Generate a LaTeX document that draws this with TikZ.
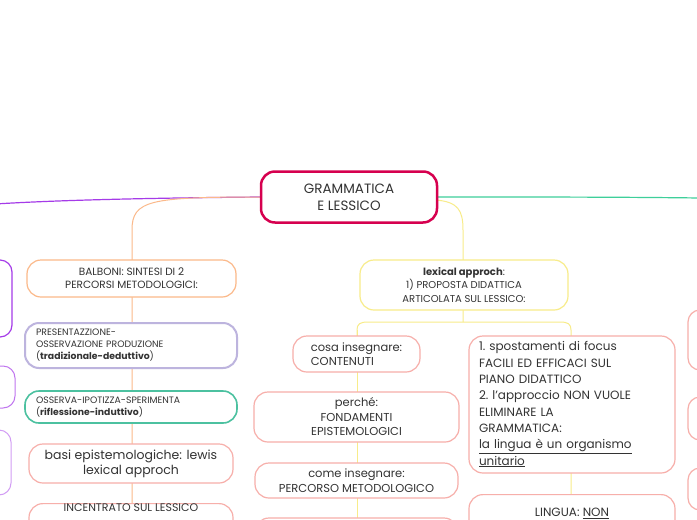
\documentclass[tikz,border=0pt]{standalone}
\usepackage{fontspec}
\setmainfont{Poppins}
\newcommand{\ul}[1]{\underline{#1}}
\definecolor{crim}{HTML}{D6004F}
\definecolor{orn}{HTML}{FBB98A}
\definecolor{yel}{HTML}{F8EC8A}
\definecolor{pnk}{HTML}{F7AFAA}
\definecolor{lav}{HTML}{BDB4DE}
\definecolor{teal}{HTML}{4CC1A0}
\definecolor{purp}{HTML}{A53BE8}
\definecolor{grn}{HTML}{3ECF9A}
\definecolor{ink}{HTML}{333333}
\begin{document}
\begin{tikzpicture}[x=1pt,y=-1pt,
 box/.style={draw,rounded corners=14pt,line width=1.2pt,fill=white,inner sep=0pt,align=center,text=ink},
 txt/.style={font=\fontsize{10.5}{13}\selectfont}]
\clip (0,0) rectangle (697,520);
\useasboundingbox (0,0) rectangle (697,520);
\fill[white] (0,0) rectangle (697,520);
% connectors
\draw[purp,line width=1.2pt] (260,197) .. controls (150,198) and (60,200) .. (-5,204);
\draw[grn,line width=1.2pt] (438,197) .. controls (550,197) and (620,197) .. (700,198);
\draw[orn,line width=1pt] (262,197) .. controls (150,197) and (132,200) .. (132,230) -- (132,520);
\draw[yel,line width=1pt] (436,200) .. controls (458,202) and (463,210) .. (463,230) -- (463,322);
\draw[yel,line width=1pt] (357,340) -- (357,330) .. controls (357,324) and (360,322) .. (368,322) -- (560,322) .. controls (568,322) and (571,324) .. (571,330) -- (571,520);
\draw[yel,line width=1pt] (357,330) -- (357,520);
% center
\node[box,draw=crim,line width=2.5pt,minimum width=176pt,minimum height=51pt,font=\fontsize{13.5}{17}\selectfont] (c) at (349,197) {GRAMMATICA\\E LESSICO};
% left column
\node[box,draw=orn,minimum width=209pt,minimum height=37pt,txt] (b) at (131.5,278.5) {BALBONI: SINTESI DI 2\\PERCORSI METODOLOGICI:};
\node[box,draw=lav,line width=2pt,minimum width=212pt,minimum height=45pt,font=\fontsize{9.3}{12}\selectfont,align=left,text width=190pt] (p) at (131,345.5) {PRESENTAZZIONE-\\OSSERVAZIONE PRODUZIONE\\(\textbf{tradizionale-deduttivo})};
\node[box,draw=teal,line width=1.6pt,minimum width=212pt,minimum height=32pt,font=\fontsize{9.3}{12}\selectfont,align=left,text width=190pt] (o) at (131,407) {OSSERVA-IPOTIZZA-SPERIMENTA\\(\textbf{riflessione-induttivo})};
\node[box,draw=pnk,minimum width=204pt,minimum height=39pt,font=\fontsize{12.5}{15}\selectfont] (ba) at (131,463.5) {basi epistemologiche: lewis\\lexical approch};
\node[box,draw=pnk,minimum width=204pt,minimum height=40pt,anchor=north,font=\fontsize{11}{13}\selectfont] (in) at (131,503) {\raisebox{1pt}{INCENTRATO SUL LESSICO}\\[20pt]};
% left edge partial
\draw[purp,line width=1.2pt,rounded corners=12pt,fill=white] (-20,260) rectangle (12,337);
\draw[purp!70,line width=1pt,rounded corners=12pt,fill=white] (-20,366) rectangle (15,408);
\draw[purp!50,line width=1pt,rounded corners=12pt,fill=white] (-20,430) rectangle (11,495);
% right column
\node[box,draw=yel,minimum width=208pt,minimum height=50pt,txt,font=\fontsize{10}{13.5}\selectfont] (l) at (464,285) {\textbf{lexical approch}:\\1) PROPOSTA DIDATTICA\\ARTICOLATA SUL LESSICO:};
\node[box,draw=pnk,minimum width=127pt,minimum height=36pt,font=\fontsize{11.5}{14.5}\selectfont,align=left] (co) at (356.5,354) {cosa insegnare:\\CONTENUTI};
\node[box,draw=pnk,minimum width=205pt,minimum height=50pt,font=\fontsize{11.5}{14.5}\selectfont] (pe) at (356.5,417) {perché:\\FONDAMENTI\\EPISTEMOLOGICI};
\node[box,draw=pnk,minimum width=203pt,minimum height=35pt,font=\fontsize{11.5}{14.5}\selectfont] (cm) at (356.5,480.5) {come insegnare:\\PERCORSO METODOLOGICO};
\draw[pnk,line width=1.2pt,rounded corners=14pt,fill=white] (255,518) rectangle (458,560);
\node[box,draw=pnk,minimum width=206pt,minimum height=137pt,font=\fontsize{12}{16.3}\selectfont,align=left,text width=186pt] (sp) at (572,404.5) {1.\ spostamenti di focus\\FACILI ED EFFICACI SUL\\PIANO DIDATTICO\\2.\ l'approccio NON VUOLE\\ELIMINARE LA\\GRAMMATICA:\\\ul{la lingua è un organismo}\\\ul{unitario}};
\node[box,draw=pnk,minimum width=206pt,minimum height=50pt,anchor=north,font=\fontsize{12}{15}\selectfont] (li) at (572,494) {LINGUA: \ul{NON}\\SCOMPONIBILE in modo};
% right edge partial
\draw[pnk,line width=1.2pt,rounded corners=12pt,fill=white] (688,310) rectangle (720,370);
\draw[pnk,line width=1.2pt,rounded corners=12pt,fill=white] (688,397) rectangle (720,440);
\draw[pnk,line width=1.2pt,rounded corners=12pt,fill=white] (688,468) rectangle (720,510);
\end{tikzpicture}
\end{document}
